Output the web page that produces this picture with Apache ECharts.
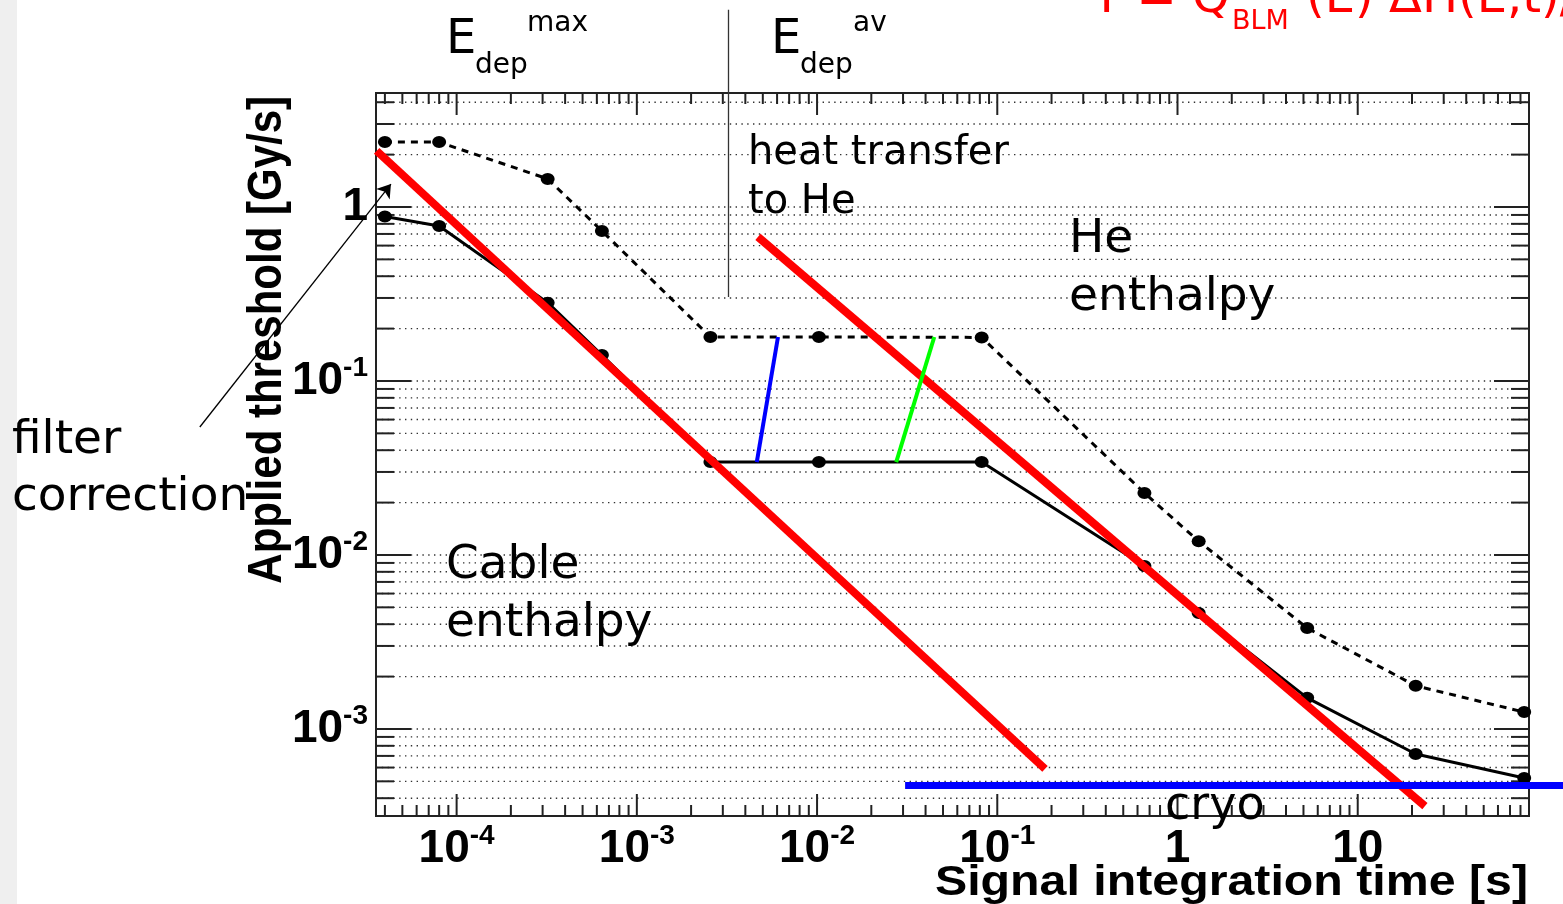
<!DOCTYPE html>
<html>
<head>
<meta charset="utf-8">
<script src="https://cdn.jsdelivr.net/npm/echarts@6/dist/echarts.min.js"></script>
<style>
  html, body { margin: 0; padding: 0; background: #ffffff; }
  #chart { width: 1563px; height: 904px; }
</style>
</head>
<body>
<div id="chart"></div>
<script>
// BLM running-sum integration windows [s]
const integrationTimes = [4e-5, 8e-5, 3.2e-4, 6.4e-4, 2.56e-3, 1.024e-2, 8.192e-2, 0.65536, 1.31072, 5.24288, 20.97152, 83.88608];
// Applied thresholds [Gy/s], upper (dashed) and lower (solid) curves
const thresholdUpper = [2.36, 2.36, 1.45, 0.728, 0.179, 0.179, 0.178, 0.0227, 0.0120, 0.0038, 0.00177, 0.00125];
const thresholdLower = [0.882, 0.778, 0.282, 0.141, 0.0342, 0.0342, 0.0342, 0.00865, 0.00464, 0.00151, 0.000718, 0.000522];

// Regime guide lines [time s, rate Gy/s]
const cableEnthalpyLine = [[3.6e-5, 2.10], [0.184, 5.9e-4]];
const heEnthalpyLine = [[4.7e-3, 0.673], [23.6, 3.6e-4]];
const heatTransferBlue = [[4.63e-3, 0.0342], [6.07e-3, 0.179]];
const heatTransferGreen = [[0.0275, 0.0342], [0.0447, 0.179]];
const cryoLimit = [[0.0308, 4.77e-4], [140, 4.77e-4]];
const edepDivider = [[3.2e-3, 13.6], [3.2e-3, 0.304]];
const filterArrow = [[3.76e-6, 0.0544], [4.32e-5, 1.355]];

// Axis ranges
const xRange = [3.57e-5, 89.2];
const yRange = [3.16e-4, 4.52];

const GRID = { left: 376, top: 93, width: 1153, height: 723 };
const LABEL_FONT = 'Liberation Sans';
const TEXT_FONT = 'DejaVu Sans';

function logTicks(lo, hi) {
  const out = [];
  for (let d = Math.floor(Math.log10(lo)); d <= Math.ceil(Math.log10(hi)); d++) {
    for (let k = 1; k <= 9; k++) {
      const v = k * Math.pow(10, d);
      if (v >= lo * 0.9999 && v <= hi * 1.0001) out.push({ v: v, major: k === 1 });
    }
  }
  return out;
}
const xTicks = logTicks(xRange[0], xRange[1]);
const yTicks = logTicks(yRange[0], yRange[1]);

function powerLabel(v) {
  const lg = Math.log10(v);
  const e = Math.round(lg);
  if (Math.abs(lg - e) > 1e-6) return '';
  if (e === 0) return '{b|1}';
  if (e === 1) return '{b|10}';
  return '{b|10}{s|' + e + '}';
}

const labelRich = {
  b: { fontSize: 46, fontWeight: 'bold', fontFamily: LABEL_FONT, lineHeight: 54, color: '#000' },
  s: { fontSize: 28, fontWeight: 'bold', fontFamily: LABEL_FONT, lineHeight: 28, verticalAlign: 'top', color: '#000' }
};

// Frame ticks (inside, on all four sides) and dotted horizontal grid
function renderFrame(params, api) {
  const bl = api.coord([xRange[0], yRange[0]]);
  const tr = api.coord([xRange[1], yRange[1]]);
  const children = [];
  const gridStyle = { stroke: '#333', lineWidth: 1.4, lineDash: [1.4, 4.4] };
  const tickStyle = { stroke: '#222', lineWidth: 2 };
  yTicks.forEach(function (t) {
    const y = api.coord([xRange[0], t.v])[1];
    children.push({ type: 'line', shape: { x1: bl[0], y1: y, x2: tr[0], y2: y }, style: gridStyle, silent: true });
  });
  yTicks.forEach(function (t) {
    const y = api.coord([xRange[0], t.v])[1];
    const len = t.major ? 35 : 18;
    children.push({ type: 'line', shape: { x1: bl[0], y1: y, x2: bl[0] + len, y2: y }, style: tickStyle, silent: true });
    children.push({ type: 'line', shape: { x1: tr[0] - len, y1: y, x2: tr[0], y2: y }, style: tickStyle, silent: true });
  });
  xTicks.forEach(function (t) {
    const x = api.coord([t.v, yRange[0]])[0];
    const len = t.major ? 22 : 11;
    children.push({ type: 'line', shape: { x1: x, y1: bl[1], x2: x, y2: bl[1] - len }, style: tickStyle, silent: true });
    children.push({ type: 'line', shape: { x1: x, y1: tr[1], x2: x, y2: tr[1] + len }, style: tickStyle, silent: true });
  });
  return { type: 'group', children: children };
}

// Straight guide segment drawn through the cartesian scales, free to leave the frame
function guide(coords, color, width, z) {
  return {
    type: 'lines', coordinateSystem: 'cartesian2d', clip: false, silent: true, z: z,
    symbol: 'none',
    lineStyle: { color: color, width: width, opacity: 1, cap: 'butt' },
    data: [{ coords: coords }]
  };
}

function txt(text, x, y, size, opts) {
  opts = opts || {};
  return Object.assign({
    type: 'text', x: x, y: y, silent: true, z: 100,
    style: {
      text: text,
      font: (opts.bold ? 'bold ' : '') + size + 'px "' + (opts.family || TEXT_FONT) + '"',
      fill: opts.color || '#000',
      align: opts.align || 'left', textAlign: opts.align || 'left',
      verticalAlign: 'middle', textVerticalAlign: 'middle'
    }
  }, opts.extra || {});
}

const chart = echarts.init(document.getElementById('chart'), null, { renderer: 'canvas' });

chart.setOption({
  animation: false,
  backgroundColor: '#ffffff',
  grid: Object.assign({ show: true, borderColor: '#222', borderWidth: 2, backgroundColor: 'transparent', containLabel: false, outerBoundsMode: 'none' }, GRID),
  xAxis: {
    type: 'log', logBase: 10, min: xRange[0], max: xRange[1],
    axisLine: { show: false }, axisTick: { show: false }, splitLine: { show: false }, minorTick: { show: false },
    axisLabel: { margin: 6, formatter: powerLabel, rich: labelRich }
  },
  yAxis: {
    type: 'log', logBase: 10, min: yRange[0], max: yRange[1],
    axisLine: { show: false }, axisTick: { show: false }, splitLine: { show: false }, minorTick: { show: false },
    axisLabel: { margin: 8, formatter: powerLabel, rich: labelRich }
  },
  series: [
    {
      type: 'custom', silent: true, z: 1,
      data: [[xRange[0], yRange[0]]],
      renderItem: renderFrame
    },
    {
      name: 'upper', type: 'line', z: 3, clip: false, silent: true,
      data: integrationTimes.map(function (t, i) { return [t, thresholdUpper[i]]; }),
      symbol: 'circle', symbolSize: [14, 12], showSymbol: true,
      itemStyle: { color: '#000' },
      lineStyle: { color: '#000', width: 3, type: [7, 6] }
    },
    {
      name: 'lower', type: 'line', z: 3, clip: false, silent: true,
      data: integrationTimes.map(function (t, i) { return [t, thresholdLower[i]]; }),
      symbol: 'circle', symbolSize: [14, 12], showSymbol: true,
      itemStyle: { color: '#000' },
      lineStyle: { color: '#000', width: 3 }
    },
    guide(cableEnthalpyLine, '#ff0000', 8, 4),
    guide(heEnthalpyLine, '#ff0000', 8, 4),
    guide(heatTransferBlue, '#0000ff', 4, 5),
    guide(heatTransferGreen, '#00ff00', 4, 5),
    guide(cryoLimit, '#0000ff', 7, 6),
    guide(edepDivider, '#333333', 1.3, 2),
    {
      type: 'lines', coordinateSystem: 'cartesian2d', clip: false, silent: true, z: 7,
      symbol: ['none', 'arrow'], symbolSize: 13,
      lineStyle: { color: '#000', width: 1.3, opacity: 1 },
      data: [{ coords: filterArrow }]
    }
  ],
  graphic: {
    elements: [
      { type: 'rect', shape: { x: 0, y: 0, width: 17, height: 904 }, style: { fill: '#efefef' }, silent: true, z: 0 },
      // axis titles
      txt('Signal integration time [s]', 1528, 883, 42, { bold: true, family: LABEL_FONT, align: 'right', extra: { scaleX: 1.15 } }),
      txt('Applied threshold [Gy/s]', 268, 96, 42, { bold: true, family: LABEL_FONT, align: 'right', extra: { rotation: Math.PI / 2, scaleY: 1.15 } }),
      // energy deposition labels
      txt('E', 446, 41, 48), txt('dep', 475, 66, 28), txt('max', 527, 24, 28),
      txt('E', 771, 41, 48), txt('dep', 800, 66, 28), txt('av', 853, 24, 28),
      // regime labels
      txt('heat transfer', 748, 154, 40), txt('to He', 748, 203, 40),
      txt('He', 1069, 240, 47), txt('enthalpy', 1069, 298, 47),
      txt('Cable', 446, 566, 47), txt('enthalpy', 446, 624, 47),
      txt('filter', 12, 441, 47), txt('correction', 12, 498, 47),
      txt('cryo', 1165, 807, 46),
      // threshold formula
      txt('T = Q', 1092, 0, 48, { color: '#ff0000' }),
      txt('BLM', 1232, 22, 27, { color: '#ff0000' }),
      txt('(E) \u0394H(E,t)/', 1306, 0, 48, { color: '#ff0000' })
    ]
  }
});
</script>
</body>
</html>
